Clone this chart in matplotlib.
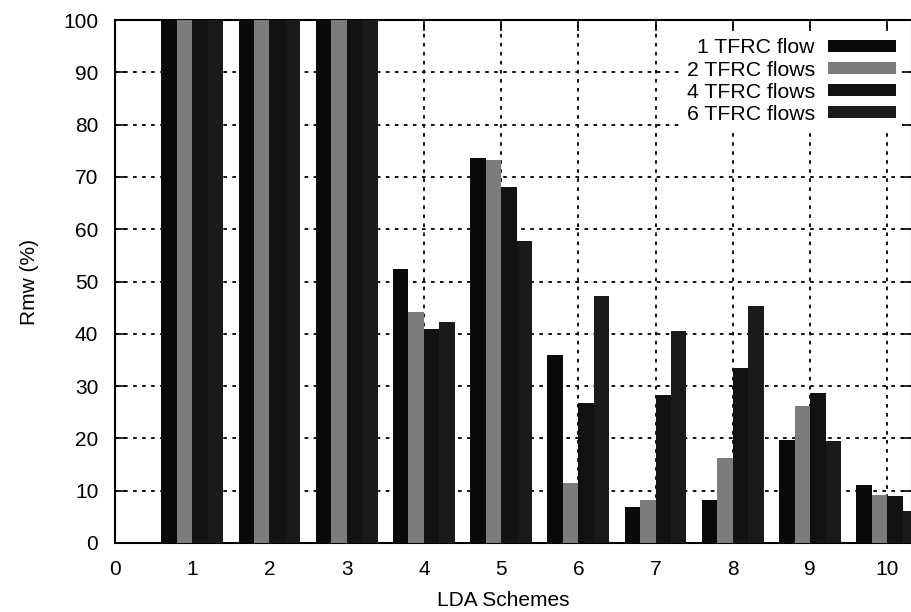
import matplotlib
matplotlib.use("Agg")
import matplotlib.pyplot as plt
import numpy as np
from matplotlib.patches import Patch

plt.rcParams['font.family'] = ['Liberation Sans', 'DejaVu Sans']

schemes = [1, 2, 3, 4, 5, 6, 7, 8, 9, 10]
series_labels = ["1 TFRC flow", "2 TFRC flows", "4 TFRC flows", "6 TFRC flows"]
flow1 = [100, 100, 100, 52.4, 73.6, 35.9, 6.9, 8.2, 19.7, 11.1]
flow2 = [100, 100, 100, 44.2, 73.3, 11.5, 8.3, 16.2, 26.2, 9.2]
flow4 = [100, 100, 100, 40.9, 68.0, 26.7, 28.3, 33.4, 28.7, 9.0]
flow6 = [100, 100, 100, 42.2, 57.8, 47.3, 40.6, 45.3, 19.5, 6.2]
series = [flow1, flow2, flow4, flow6]
colors = ['#0a0a0a', '#7c7c7c', '#121212', '#1a1a1a']

W, H = 912, 612
fig = plt.figure(figsize=(W / 100, H / 100), dpi=100)
ax = fig.add_axes([115 / W, (H - 543) / H, (W - 115) / W, (543 - 20) / H])

bw = 0.2
x = np.array(schemes, dtype=float)
offsets = [-1.5 * bw, -0.5 * bw, 0.5 * bw, 1.5 * bw]
for vals, off, c in zip(series, offsets, colors):
    ax.bar(x + off, vals, width=bw, color=c, edgecolor='none', zorder=3)

ax.set_xlim(0, 10.32)
ax.set_ylim(0, 100)
ax.set_xticks(range(0, 11))
ax.set_yticks(range(0, 101, 10))
ax.tick_params(axis='both', direction='in', length=8, width=1.2, labelsize=15,
               top=True, right=True, color='black')
ax.tick_params(axis='x', pad=12)
ax.tick_params(axis='y', pad=12)
for s in ax.spines.values():
    s.set_linewidth(1.5)
    s.set_color('black')
ax.grid(True, color='black', linestyle=(0, (2, 3)), linewidth=1.3, zorder=1)
ax.set_axisbelow(True)

fig.text(30 / W, 1 - 282 / H, "Rmw (%)", rotation=90, ha='center', va='center', fontsize=15)
fig.text(503 / W, 1 - 601 / H, "LDA Schemes", ha='center', va='center', fontsize=15)

handles = [Patch(facecolor=c, edgecolor='none') for c in colors]
leg = ax.legend(handles, series_labels, loc='upper right', frameon=True,
                markerfirst=False, fontsize=15.3, handlelength=3.2, handleheight=0.5,
                labelspacing=0.15, handletextpad=0.6, fancybox=False,
                bbox_to_anchor=(902 / W, 1 - 32 / H), bbox_transform=fig.transFigure,
                borderpad=0.3, borderaxespad=0)
leg.get_frame().set_facecolor('white')
leg.get_frame().set_edgecolor('none')
leg.get_frame().set_alpha(1)
for t in leg.get_texts():
    t.set_ha('right')
leg.set_zorder(5)

fig.savefig("out.png", dpi=100)
